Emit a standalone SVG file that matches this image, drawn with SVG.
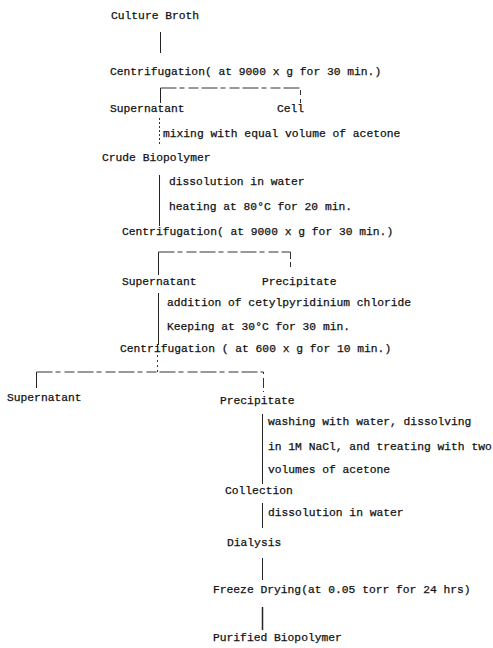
<svg xmlns="http://www.w3.org/2000/svg" width="493" height="648" viewBox="0 0 493 648">
<style>
text{font-family:"Liberation Mono","DejaVu Sans Mono",monospace;font-size:11.3px;fill:#111;stroke:#111;stroke-width:0.25}
.l{stroke:#222;stroke-width:1;fill:none}
.d{stroke:#333;stroke-width:1;fill:none;stroke-dasharray:16 3 5 4 10 3}
</style>
<rect width="493" height="648" fill="#fff"/>
<g id="connectors">
<path class="l" d="M160.5 32V53"/>
<path class="d" d="M160.5 88H300.5V103"/>
<path class="l" d="M160.5 88V103"/>
<path class="d" d="M159.5 118V146" style="stroke-dasharray:2 2"/>
<path class="l" d="M159.5 175V226"/>
<path class="d" d="M158.5 252H290.5V270"/>
<path class="l" d="M158.5 252V275"/>
<path class="l" d="M158.5 293V345"/>
<path class="d" d="M157.5 345V372" style="stroke-dasharray:2 3"/>
<path class="d" d="M36.5 372H263.5V392"/>
<path class="l" d="M36.5 372V388"/>
<path class="l" d="M262.5 414V484"/>
<path class="l" d="M262.5 503V528"/>
<path class="l" d="M262.5 558V580"/>
<path class="l" d="M262.5 607V630" style="stroke-width:1.5"/>
</g>
<g id="n1"><text x="111" y="19">Culture Broth</text></g>
<g id="n2"><text x="110" y="75">Centrifugation( at 9000 x g for 30 min.)</text></g>
<g id="n3"><text x="110" y="112">Supernatant</text></g>
<g id="n4"><text x="277" y="112">Cell</text></g>
<g id="s1"><text x="163" y="137">mixing with equal volume of acetone</text></g>
<g id="n5"><text x="102" y="161">Crude Biopolymer</text></g>
<g id="s2"><text x="169" y="185">dissolution in water</text><text x="169" y="210">heating at 80°C for 20 min.</text></g>
<g id="n6"><text x="122" y="235">Centrifugation( at 9000 x g for 30 min.)</text></g>
<g id="n7"><text x="122" y="285">Supernatant</text></g>
<g id="n8"><text x="262" y="285">Precipitate</text></g>
<g id="s3"><text x="167" y="306">addition of cetylpyridinium chloride</text><text x="167" y="330">Keeping at 30°C for 30 min.</text></g>
<g id="n9"><text x="120" y="352">Centrifugation ( at 600 x g for 10 min.)</text></g>
<g id="n10"><text x="7" y="401">Supernatant</text></g>
<g id="n11"><text x="220" y="404">Precipitate</text></g>
<g id="s4"><text x="268" y="425">washing with water, dissolving</text><text x="268" y="450">in 1M NaCl, and treating with two</text><text x="268" y="473">volumes of acetone</text></g>
<g id="n12"><text x="225" y="494">Collection</text></g>
<g id="s5"><text x="268" y="516">dissolution in water</text></g>
<g id="n13"><text x="227" y="546">Dialysis</text></g>
<g id="n14"><text x="213" y="593">Freeze Drying(at 0.05 torr for 24 hrs)</text></g>
<g id="n15"><text x="213" y="641">Purified Biopolymer</text></g>
</svg>
